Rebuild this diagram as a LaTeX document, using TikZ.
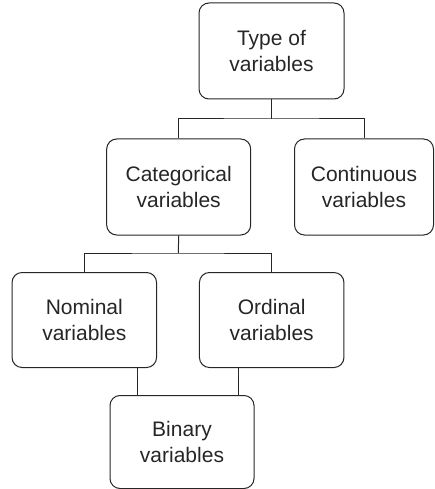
\documentclass[tikz,border=0pt]{standalone}
\usepackage{fontspec}
\setmainfont{Liberation Sans}
\begin{document}
\begin{tikzpicture}[x=1pt,y=-1pt,
  box/.style={draw=black!85, line width=1pt, rounded corners=10pt, align=center,
    font=\fontsize{21}{25.7}\selectfont, text=black!85, inner sep=0pt},
  link/.style={draw=black!85, line width=1pt}]
\useasboundingbox (0,0) rectangle (435,489);
\node[box, minimum width=145pt, minimum height=96pt] (type) at (271.5,51) {Type of\\variables};
\node[box, minimum width=144pt, minimum height=96pt] (cat) at (178.7,187) {Categorical\\variables};
\node[box, minimum width=139pt, minimum height=96pt] (cont) at (364,187) {Continuous\\variables};
\node[box, minimum width=144.5pt, minimum height=95pt] (nom) at (84.3,320) {Nominal\\variables};
\node[box, minimum width=144.5pt, minimum height=95pt] (ord) at (271.7,320) {Ordinal\\variables};
\node[box, minimum width=144pt, minimum height=93pt] (bin) at (182,442) {Binary\\variables};
\coordinate (j1) at (271.5,119);
\coordinate (j2) at (178.3,253);
\coordinate (b1) at (137,395.5);
\coordinate (b2) at (238.3,395.5);
\draw[link] (type.south) -- (j1);
\draw[link] (cat.north) |- (j1) -| (cont.north);
\draw[link] (cat.south) -- (j2);
\draw[link] (nom.north) |- (j2) -| (ord.north);
\draw[link] (b1 |- nom.south) -- (b1);
\draw[link] (b2 |- ord.south) -- (b2);
\end{tikzpicture}
\end{document}
